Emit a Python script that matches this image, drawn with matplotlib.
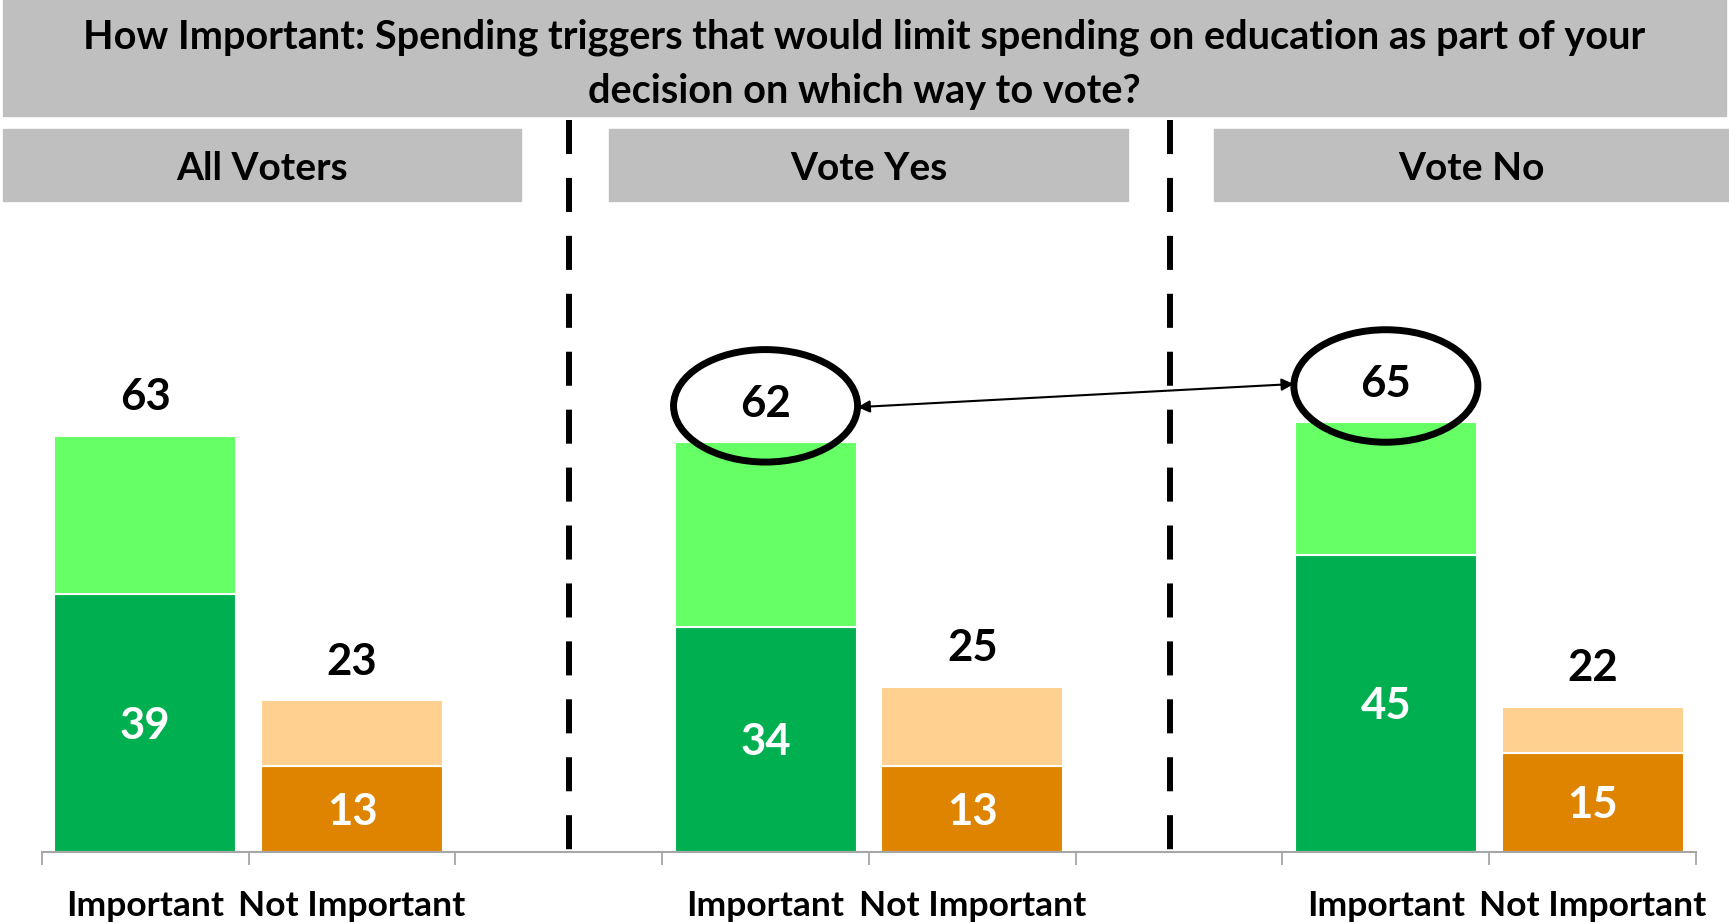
import matplotlib.pyplot as plt
from matplotlib.patches import Rectangle, Ellipse
from matplotlib.lines import Line2D
import numpy as np

plt.rcParams['font.family'] = ['Lato', 'DejaVu Sans']
plt.rcParams['font.weight'] = 'bold'

title = ('How Important: Spending triggers that would limit spending on education as part of your\n'
         'decision on which way to vote?')
groups = ['All Voters', 'Vote Yes', 'Vote No']
categories = ['Important', 'Not Important']
imp_total = [63, 62, 65]
imp_very = [39, 34, 45]
not_total = [23, 25, 22]
not_very = [13, 13, 15]
circled = [1, 2]   # groups whose Important total is ringed and linked

W, H = 1729, 923
fig = plt.figure(figsize=(W / 100, H / 100), dpi=100)

GRAY = '#BFBFBF'
AXG = '#A6A6A6'


def box(x0, y0, x1, y1):
    # pixel box (top-left origin) -> figure rectangle
    fig.add_artist(Rectangle((x0 / W, 1 - y1 / H), (x1 - x0) / W, (y1 - y0) / H,
                             transform=fig.transFigure, color=GRAY, zorder=0))


# header boxes
box(3, 0, 1726, 116)
fig.text(864.5 / W, 1 - 64 / H, title, ha='center', va='center', fontsize=28.5,
         linespacing=1.55)
hdr = [(3, 521), (609, 1128), (1214, 1729)]
for (x0, x1), g in zip(hdr, groups):
    box(x0, 129, x1, 201)
    fig.text((x0 + x1) / 2 / W, 1 - 168 / H, g, ha='center', va='center', fontsize=28)

# dashed separators
for xs in [569, 1170]:
    fig.add_artist(Line2D([xs / W, xs / W], [1 - 120 / H, 1 - 852 / H],
                          transform=fig.transFigure, color='black', lw=4.3,
                          linestyle=(0, (5.7, 4.0)), solid_capstyle='butt',
                          dash_capstyle='butt'))

ax = fig.add_axes([41.9 / W, 1 - 852.4 / H, (1696 - 41.9) / W, 661.6 / H])
ax.set_xlim(-0.5, 7.5)
ax.set_ylim(0, 100)
ax.patch.set_visible(False)

bw = 0.88
imp_pos = np.array([0, 3, 6])
not_pos = imp_pos + 1

ax.bar(imp_pos, imp_very, bw, color='#00B050', edgecolor='white', lw=1.5)
ax.bar(imp_pos, np.subtract(imp_total, imp_very), bw, bottom=imp_very,
       color='#66FF66', edgecolor='white', lw=1.5)
ax.bar(not_pos, not_very, bw, color='#DF8400', edgecolor='white', lw=1.5)
ax.bar(not_pos, np.subtract(not_total, not_very), bw, bottom=not_very,
       color='#FFD08F', edgecolor='white', lw=1.5)

lab = dict(ha='center', va='baseline', fontsize=31.5, textcoords='offset points')
for p, v, t in zip(list(imp_pos) + list(not_pos), imp_very + not_very, imp_total + not_total):
    ax.annotate(str(v), (p, v / 2), xytext=(0, -11), color='white', **lab)
    ax.annotate(str(t), (p, t), xytext=(0, 18.5), color='black', **lab)

# rings around compared totals and the arrow between them
ew = 0.89
for g in circled:
    ax.add_patch(Ellipse((imp_pos[g], imp_total[g] + 5.5), ew, 17, fill=False,
                         ec='black', lw=5, clip_on=False, zorder=5))
a, b = circled
ax.annotate('', xy=(imp_pos[b] - ew / 2, imp_total[b] + 5.8),
            xytext=(imp_pos[a] + ew / 2, imp_total[a] + 5.3),
            arrowprops=dict(arrowstyle='<|-|>', color='black', lw=1.5,
                            mutation_scale=18, shrinkA=0, shrinkB=0))

for s in ['top', 'right', 'left']:
    ax.spines[s].set_visible(False)
ax.spines['bottom'].set_color(AXG)
ax.spines['bottom'].set_linewidth(1.5)
ax.set_yticks([])
ax.set_xticks(np.arange(-0.5, 8, 1))
ax.set_xticklabels([])
ax.tick_params(axis='x', which='major', length=9.4, width=1.3, color=AXG)
ax.set_xticks(np.concatenate([imp_pos, not_pos]), minor=True)
ax.set_xticklabels(categories[:1] * 3 + categories[1:] * 3, minor=True)
ax.tick_params(axis='x', which='minor', length=0, pad=27, labelsize=25.5)

fig.savefig('out.png', dpi=100)
